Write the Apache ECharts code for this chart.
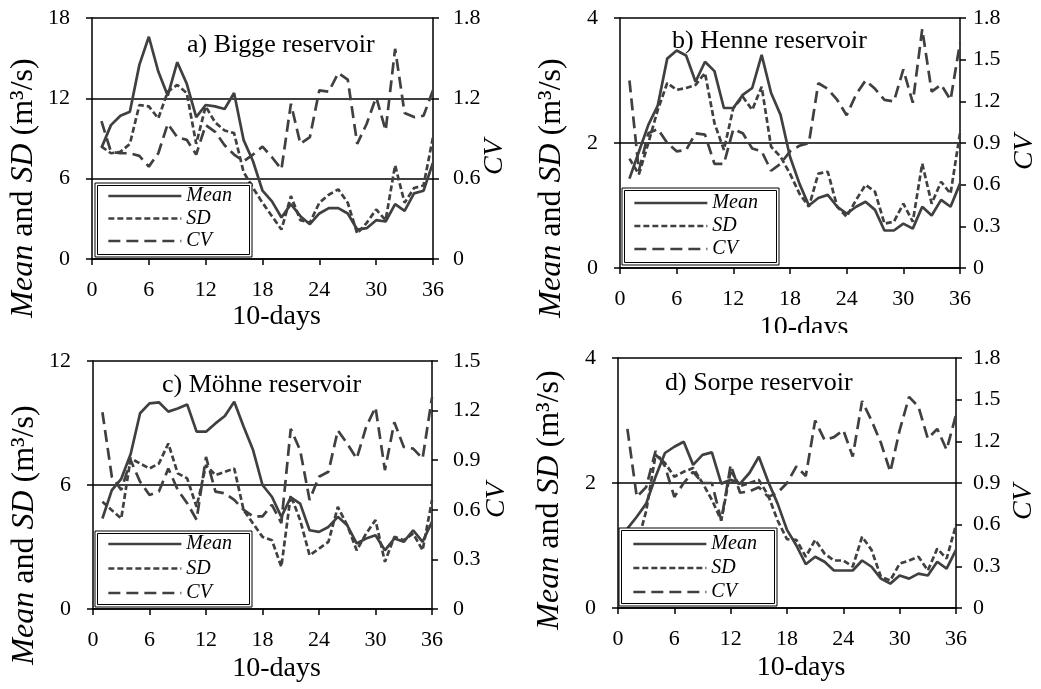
<!DOCTYPE html>
<html>
<head>
<meta charset="utf-8">
<script src="https://cdn.jsdelivr.net/npm/echarts@6/dist/echarts.min.js"></script>
<style>
  html, body { margin: 0; padding: 0; background: #fff; }
  #chart { width: 1041px; height: 689px; }
</style>
</head>
<body>
<div id="chart"></div>
<script>
// 10-day periods
const days = [1, 2, 3, 4, 5, 6, 7, 8, 9, 10, 11, 12, 13, 14, 15, 16, 17, 18,
  19, 20, 21, 22, 23, 24, 25, 26, 27, 28, 29, 30, 31, 32, 33, 34, 35, 36];

// a) Bigge reservoir
const meanA = [8.3, 10.0, 10.7, 11.0, 14.5, 16.6, 14.0, 12.2, 14.7, 13.1, 10.6, 11.5, 11.4, 11.2, 12.4, 8.9, 7.3, 5.1,
  4.3, 3.1, 4.1, 3.2, 2.6, 3.4, 3.8, 3.8, 3.4, 2.2, 2.3, 2.9, 2.8, 4.1, 3.6, 4.9, 5.1, 7.2];
const sdA = [8.4, 7.9, 8.0, 8.6, 11.5, 11.4, 10.5, 12.5, 13.0, 12.4, 8.6, 11.4, 10.2, 9.6, 9.4, 6.5, 5.3, 4.2,
  3.2, 2.2, 4.7, 2.9, 2.7, 4.2, 4.8, 5.2, 4.2, 1.9, 2.7, 3.7, 2.9, 7.0, 4.2, 5.3, 5.5, 9.1];
const cvA = [1.03, 0.80, 0.79, 0.79, 0.77, 0.69, 0.79, 1.01, 0.91, 0.89, 0.78, 1.0, 0.95, 0.85, 0.78, 0.73, 0.78, 0.84,
  0.76, 0.67, 1.16, 0.86, 0.91, 1.26, 1.25, 1.39, 1.34, 0.86, 1.01, 1.21, 0.96, 1.57, 1.09, 1.06, 1.07, 1.26];

// b) Henne reservoir
const meanB = [1.43, 1.86, 2.29, 2.6, 3.35, 3.48, 3.4, 2.98, 3.3, 3.15, 2.56, 2.56, 2.77, 2.88, 3.41, 2.8, 2.45, 1.78,
  1.35, 1.0, 1.12, 1.17, 0.98, 0.87, 0.98, 1.06, 0.93, 0.6, 0.6, 0.71, 0.63, 0.98, 0.84, 1.09, 0.98, 1.35];
const sdB = [1.75, 1.5, 2.0, 2.53, 2.96, 2.85, 2.88, 2.93, 3.12, 2.32, 1.89, 2.56, 2.74, 2.53, 2.9, 1.94, 1.78, 1.51,
  1.19, 0.98, 1.51, 1.54, 0.98, 0.82, 1.09, 1.33, 1.22, 0.71, 0.74, 1.03, 0.74, 1.67, 1.03, 1.38, 1.19, 2.16];
const cvB = [1.35, 0.70, 0.97, 1.0, 0.9, 0.84, 0.85, 0.97, 0.96, 0.75, 0.75, 1.0, 0.97, 0.86, 0.84, 0.70, 0.75, 0.84,
  0.88, 0.9, 1.33, 1.29, 1.21, 1.1, 1.25, 1.35, 1.29, 1.21, 1.2, 1.43, 1.19, 1.72, 1.27, 1.32, 1.21, 1.62];

// c) Möhne reservoir
const meanC = [4.38, 5.75, 6.3, 7.5, 9.47, 9.95, 10.0, 9.55, 9.7, 9.9, 8.58, 8.58, 8.98, 9.34, 10.03, 8.82, 7.69, 6.0,
  5.43, 4.46, 5.4, 5.1, 3.81, 3.73, 3.97, 4.46, 4.05, 3.17, 3.41, 3.57, 2.84, 3.41, 3.25, 3.81, 3.25, 4.22];
const sdC = [5.19, 4.78, 4.38, 7.29, 7.04, 6.8, 7.04, 8.01, 6.56, 6.32, 4.94, 6.96, 6.48, 6.64, 6.8, 4.78, 4.14, 3.49,
  3.33, 2.04, 5.5, 4.3, 2.6, 2.92, 3.25, 4.94, 4.05, 2.84, 3.65, 4.3, 2.28, 3.49, 3.33, 3.65, 2.84, 5.27];
const cvC = [1.19, 0.8, 0.72, 0.9, 0.77, 0.69, 0.71, 0.85, 0.72, 0.64, 0.54, 0.92, 0.71, 0.7, 0.66, 0.6, 0.56, 0.56,
  0.63, 0.52, 1.09, 0.96, 0.66, 0.8, 0.83, 1.08, 1.0, 0.91, 1.1, 1.22, 0.84, 1.13, 0.98, 0.97, 0.91, 1.28];

// d) Sorpe reservoir
const meanD = [1.27, 1.46, 1.67, 2.1, 2.48, 2.58, 2.66, 2.29, 2.45, 2.49, 1.99, 2.05, 1.99, 2.16, 2.42, 2.02, 1.67, 1.25,
  1.0, 0.7, 0.82, 0.74, 0.6, 0.6, 0.6, 0.76, 0.66, 0.47, 0.39, 0.52, 0.47, 0.55, 0.52, 0.74, 0.63, 0.93];
const sdD = [1.2, 1.0, 1.55, 2.45, 2.32, 2.1, 2.18, 2.24, 2.0, 1.73, 1.4, 2.2, 1.95, 2.0, 2.05, 1.8, 1.4, 1.1,
  1.09, 0.82, 1.09, 0.87, 0.76, 0.76, 0.66, 1.14, 0.93, 0.5, 0.44, 0.71, 0.76, 0.82, 0.6, 0.95, 0.79, 1.33];
const cvD = [1.29, 0.8, 0.87, 1.13, 1.02, 0.8, 0.9, 0.98, 0.9, 0.9, 0.63, 1.03, 0.83, 0.84, 0.87, 0.8, 0.83, 0.9,
  1.02, 0.95, 1.35, 1.21, 1.23, 1.28, 1.09, 1.49, 1.35, 1.19, 0.98, 1.28, 1.52, 1.45, 1.22, 1.29, 1.14, 1.39];

// panel titles and axis ranges
const titles = ['a) Bigge reservoir', 'b) Henne reservoir', 'c) Möhne reservoir', 'd) Sorpe reservoir'];
const leftMax = [18, 4, 12, 4];
const leftStep = [6, 2, 6, 2];
const rightMax = [1.8, 1.8, 1.5, 1.8];
const rightStep = [0.6, 0.3, 0.3, 0.3];
const xMax = 36;
const xStep = 6;

const panelData = [
  [meanA, sdA, cvA],
  [meanB, sdB, cvB],
  [meanC, sdC, cvC],
  [meanD, sdD, cvD]
];

// layout
const FONT = 'Liberation Serif, Times New Roman, serif';
const LINE = '#404040';
const LW = 2.7;
const grids = [
  { left: 92, top: 18, width: 341, height: 241 },
  { left: 620, top: 18, width: 340, height: 250 },
  { left: 93, top: 361, width: 339, height: 248 },
  { left: 618, top: 358, width: 338, height: 250 }
];
const titlePos = [[187, 32], [672, 28], [162, 372], [665, 370]];
const nameGaps = [44, 46, 46, 46];
const rightMargins = [20, 13, 21, 17];
// rows: first row centre and spacing between rows
const legendPos = [
  { left: 107, row: 196, step: 22.5, box: [95, 183, 157, 74] },
  { left: 633, row: 203, step: 23, box: [622, 188, 157, 77] },
  { left: 107, row: 544, step: 24.5, box: [95, 531, 157, 76] },
  { left: 632, row: 544, step: 24, box: [619, 528, 158, 78] }
];
const yNamePos = [[24, 188], [552, 188], [25, 535], [550, 500]];
const cvNamePos = [[495, 157], [1025, 152], [497, 500], [1024, 502]];

const axisLine = { show: true, lineStyle: { color: '#000', width: 1.5 } };
const axisTick = { show: true, length: 6, lineStyle: { color: '#000', width: 1.5 } };
const labelStyle = { color: '#000', fontSize: 22, fontFamily: FONT };

const chart = echarts.init(document.getElementById('chart'), null, { renderer: 'canvas' });

const xAxis = [], yAxis = [], series = [], legend = [], title = [], graphic = [];
const ROWH = 20;

grids.forEach((g, k) => {
  title.push({
    text: titles[k], left: titlePos[k][0], top: titlePos[k][1], padding: 0,
    textStyle: { fontFamily: FONT, fontSize: 26, fontWeight: 'normal', color: '#000' }
  });
  xAxis.push({
    gridIndex: k, type: 'value', min: 0, max: xMax, interval: xStep,
    axisLine, axisTick, splitLine: { show: false },
    axisLabel: Object.assign({ margin: 20 }, labelStyle),
    name: '10-days', nameLocation: 'middle', nameGap: nameGaps[k],
    nameTextStyle: { color: '#000', fontSize: 28, fontFamily: FONT, padding: [0, 0, 0, 28] }
  });
  yAxis.push({
    gridIndex: k, type: 'value', position: 'left', min: 0, max: leftMax[k], interval: leftStep[k],
    axisLine, axisTick,
    splitLine: { show: true, lineStyle: { color: '#000', width: 1.5 } },
    axisLabel: Object.assign({ margin: 22 }, labelStyle)
  });
  yAxis.push({
    gridIndex: k, type: 'value', position: 'right', min: 0, max: rightMax[k], interval: rightStep[k],
    axisLine, axisTick, splitLine: { show: false },
    axisLabel: Object.assign({ margin: rightMargins[k] }, labelStyle)
  });

  const [mean, sd, cv] = panelData[k];
  const pts = arr => days.map((d, i) => [d, arr[i]]);
  series.push({
    name: 'Mean', type: 'line', xAxisIndex: k, yAxisIndex: 2 * k, data: pts(mean),
    symbol: 'none', lineStyle: { color: LINE, width: LW }, itemStyle: { color: LINE }
  });
  series.push({
    name: 'SD', type: 'line', xAxisIndex: k, yAxisIndex: 2 * k, data: pts(sd),
    symbol: 'none', lineStyle: { color: LINE, width: LW, type: [6, 3] }, itemStyle: { color: LINE }
  });
  series.push({
    name: 'CV', type: 'line', xAxisIndex: k, yAxisIndex: 2 * k + 1, data: pts(cv),
    symbol: 'none', lineStyle: { color: LINE, width: LW, type: [12, 6] }, itemStyle: { color: LINE }
  });

  const lp = legendPos[k];
  legend.push({
    data: ['Mean', 'SD', 'CV'], orient: 'vertical', left: lp.left, top: lp.row - ROWH / 2,
    itemWidth: 73, itemHeight: 4, itemGap: lp.step - ROWH, padding: 0, z: 60,
    selectedMode: false,
    itemStyle: { opacity: 0 },
    lineStyle: { width: LW, opacity: 1, color: LINE },
    textStyle: { color: '#000', fontSize: 20, fontStyle: 'italic', fontFamily: FONT, lineHeight: ROWH }
  });

  // legend frame (double line)
  const [bx, by, bw, bh] = lp.box;
  graphic.push({
    type: 'rect', z: 50, shape: { x: bx, y: by, width: bw, height: bh },
    style: { fill: '#fff', stroke: '#000', lineWidth: 1 }
  });
  graphic.push({
    type: 'rect', z: 51, shape: { x: bx + 2.5, y: by + 2.5, width: bw - 5, height: bh - 5 },
    style: { fill: 'none', stroke: '#000', lineWidth: 1 }
  });

  // axis names
  graphic.push({
    type: 'text', z: 60, x: yNamePos[k][0], y: yNamePos[k][1], rotation: Math.PI / 2,
    style: {
      text: '{i|Mean} and {i|SD} (m³/s)', fontSize: 32, fontFamily: FONT, fill: '#000',
      align: 'center', verticalAlign: 'middle',
      rich: { i: { fontStyle: 'italic', fontSize: 32, fontFamily: FONT, fill: '#000' } }
    }
  });
  graphic.push({
    type: 'text', z: 60, x: cvNamePos[k][0], y: cvNamePos[k][1], rotation: Math.PI / 2,
    style: {
      text: 'CV', fontSize: 28, fontStyle: 'italic', fontFamily: FONT, fill: '#000',
      align: 'center', verticalAlign: 'middle'
    }
  });
});

// panel b's x-axis title is cut off in the original figure
graphic.push({
  type: 'rect', z: 100, shape: { x: 560, y: 333, width: 481, height: 13 },
  style: { fill: '#fff' }
});

const option = {
  animation: false,
  backgroundColor: '#fff',
  textStyle: { fontFamily: FONT },
  title, grid: grids, xAxis, yAxis, series, legend, graphic
};

option && chart.setOption(option);
</script>
</body>
</html>
